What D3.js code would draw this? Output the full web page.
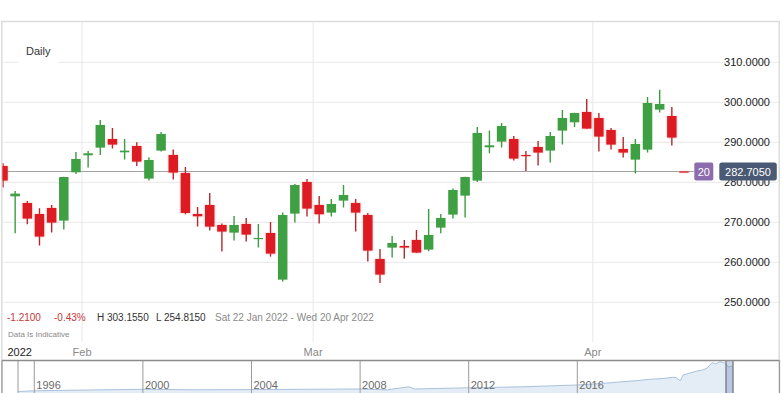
<!DOCTYPE html>
<html>
<head>
<meta charset="utf-8">
<script src="https://cdn.jsdelivr.net/npm/d3@7"></script>
<style>
  html, body { margin: 0; padding: 0; background: #fff; }
  svg { display: block; font-family: "Liberation Sans", Arial, sans-serif; }
</style>
</head>
<body>
<svg id="chart" width="783" height="393"></svg>
<script>
// ---------------- DATA ----------------
const dates = [
  "2022-01-21","2022-01-24","2022-01-25","2022-01-26","2022-01-27","2022-01-28","2022-01-31",
  "2022-02-01","2022-02-02","2022-02-03","2022-02-04","2022-02-07","2022-02-08","2022-02-09","2022-02-10","2022-02-11",
  "2022-02-14","2022-02-15","2022-02-16","2022-02-17","2022-02-18","2022-02-22","2022-02-23","2022-02-24","2022-02-25","2022-02-28",
  "2022-03-01","2022-03-02","2022-03-03","2022-03-04","2022-03-07","2022-03-08","2022-03-09","2022-03-10","2022-03-11",
  "2022-03-14","2022-03-15","2022-03-16","2022-03-17","2022-03-18","2022-03-21","2022-03-22","2022-03-23","2022-03-24","2022-03-25",
  "2022-03-28","2022-03-29","2022-03-30","2022-03-31",
  "2022-04-01","2022-04-04","2022-04-05","2022-04-06","2022-04-07","2022-04-08","2022-04-11","2022-04-12"
];
const openValues = [
  284.08,276.50,274.83,272.08,273.58,270.42,282.50,
  286.75,288.67,290.83,287.50,289.08,280.92,287.92,286.83,282.33,
  272.08,274.33,269.33,267.42,269.58,265.92,267.33,255.67,272.17,280.08,
  274.33,272.42,275.42,274.83,271.83,260.83,263.67,264.08,265.58,
  263.17,268.67,271.92,276.67,280.42,288.75,290.17,290.83,286.83,288.83,
  287.92,292.92,295.00,297.58,
  296.08,293.08,288.33,285.67,288.17,298.17,296.58,282.705
];
const highValues = [
  284.75,277.83,275.33,273.50,274.33,281.40,287.58,
  287.83,295.58,293.58,290.83,290.00,286.25,292.58,288.17,283.83,
  273.83,277.33,269.67,271.58,271.08,269.58,270.08,272.42,279.58,280.83,
  276.58,275.83,279.33,275.83,272.33,263.33,266.58,265.58,268.08,
  273.33,272.08,278.42,281.40,293.83,292.92,294.83,291.58,287.83,290.33,
  292.58,298.08,297.40,300.83,
  297.33,293.58,291.33,290.83,301.33,303.155,298.83,282.705
];
const lowValues = [
  278.67,267.25,269.50,264.17,267.42,268.17,282.08,
  283.67,286.83,288.42,285.67,284.08,280.42,287.67,280.67,272.00,
  268.92,267.92,262.67,265.42,265.17,263.67,261.42,255.17,269.92,271.42,
  269.67,271.42,273.67,267.67,260.17,254.815,261.17,260.92,262.30,
  262.75,267.25,270.92,271.17,280.08,287.25,288.67,285.42,282.83,284.17,
  284.92,289.42,293.83,293.30,
  287.67,288.17,286.17,282.17,287.42,297.42,289.17,282.705
];
const closeValues = [
  280.42,277.17,270.92,266.42,269.92,281.33,285.83,
  287.25,294.33,289.42,287.92,285.17,285.58,292.08,282.42,272.33,
  271.50,268.92,267.67,269.33,266.92,266.08,262.17,271.83,279.33,273.42,
  272.00,274.58,276.83,272.42,262.92,256.92,264.83,263.67,262.42,
  266.83,271.08,278.08,281.33,292.33,289.25,294.08,285.92,286.58,287.42,
  291.58,296.08,297.33,293.42,
  291.42,289.42,287.42,289.58,299.83,299.58,291.17,282.705
];
const yTicks = [250, 260, 270, 280, 290, 300, 310];
const monthStarts = ["2022-02-01", "2022-03-01", "2022-04-01"];
const monthLabels = ["Feb", "Mar", "Apr"];
const yearLabel = "2022";
const lastPrice = 282.705;
const countdownLabel = "20";
const statChange = "-1.2100";
const statPct = "-0.43%";
const statHigh = "H 303.1550";
const statLow = "L 254.8150";
const statRange = "Sat 22 Jan 2022 - Wed 20 Apr 2022";
const periodLabel = "Daily";
const noteLabel = "Data Is Indicative";

// navigator (long history overview)
const navYears  = [1995.4,1996.0,1998,2000,2002,2004,2006,2008,2009,2009.8,2010,2012,2014,2016,2017,2017.86,2018.5,2018.96,2019.5,2019.9,2020.02,2020.2,2020.31,2020.6,2020.88,2021.1,2021.28,2021.49,2021.65,2021.81,2021.95,2022.02,2022.15,2022.3];
const navValues = [6.6,8.4,10.5,12.4,11,11.6,12.4,13.2,11,19,13.2,16.3,19,23.7,27.6,32.4,35.5,38.7,40.8,43.9,43.4,35,50,55.3,60.5,63.2,67.6,82.4,79,85,82.9,80.8,71,73.7];
const navTickYears = [1996, 2000, 2004, 2008, 2012, 2016];
const navSelection = [2022.06, 2022.30];
const navStartYear = 1995.4;

// ---------------- DRAW ----------------
const svg = d3.select("#chart");
const W = 783, H = 393;

const x = d3.scalePoint().domain(dates).range([3, 684]);
const step = x.step();
const y = d3.scaleLinear().domain([250, 310]).range([302.3, 62.3]);

const defs = svg.append("defs");
defs.append("clipPath").attr("id", "plotClip")
  .append("rect").attr("x", 2.5).attr("y", 22).attr("width", 715).attr("height", 320);
const glow = defs.append("filter").attr("id", "redGlow")
  .attr("x", "-50%").attr("y", "-50%").attr("width", "200%").attr("height", "200%");
glow.append("feDropShadow").attr("dx", 0).attr("dy", 0).attr("stdDeviation", 1.1)
  .attr("flood-color", "#ff5a5a").attr("flood-opacity", 0.45);

// frame
svg.append("rect").attr("x", 1.75).attr("y", 21.5).attr("width", 777.5).attr("height", 400)
  .attr("fill", "none").attr("stroke", "#dcdcdc").attr("stroke-width", 1.5);

// horizontal gridlines
svg.append("g").selectAll("line").data(yTicks).join("line")
  .attr("x1", 3).attr("x2", 778)
  .attr("y1", d => y(d)).attr("y2", d => y(d))
  .attr("stroke", "#e8e8e8").attr("stroke-width", 1);

// vertical month gridlines (left band edge of first trading day)
svg.append("g").selectAll("line").data(monthStarts).join("line")
  .attr("x1", d => x(d) - step / 2).attr("x2", d => x(d) - step / 2)
  .attr("y1", 22).attr("y2", 342)
  .attr("stroke", "#e8e8e8").attr("stroke-width", 1);

// "Daily" label
svg.append("rect").attr("x", 18).attr("y", 38).attr("width", 40).attr("height", 25).attr("fill", "#fff");
svg.append("text").attr("x", 26).attr("y", 55).attr("font-size", 11).attr("fill", "#333").text(periodLabel);

// last price line
svg.append("line").attr("x1", 3).attr("x2", 694)
  .attr("y1", y(lastPrice)).attr("y2", y(lastPrice))
  .attr("stroke", "#a3a3a3").attr("stroke-width", 1.2);

// candles
const candles = dates.map((d, i) => ({
  d, o: openValues[i], h: highValues[i], l: lowValues[i], c: closeValues[i]
}));
const up = c => c.c > c.o;
const bodyW = 9.5;
const gC = svg.append("g").attr("clip-path", "url(#plotClip)");
const cg = gC.selectAll("g.candle").data(candles).join("g").attr("class", "candle");
cg.append("line")
  .attr("x1", c => x(c.d)).attr("x2", c => x(c.d))
  .attr("y1", c => y(c.h)).attr("y2", c => y(c.l))
  .attr("stroke", c => up(c) ? "#3c9b40" : "#b3282b")
  .attr("stroke-width", 1.4);
cg.append("rect")
  .attr("x", c => x(c.d) - bodyW / 2)
  .attr("width", bodyW)
  .attr("y", c => y(Math.max(c.o, c.c)))
  .attr("height", c => Math.max(1.2, Math.abs(y(c.o) - y(c.c))))
  .attr("fill", c => up(c) ? "#3f9f43" : "#dc1f24")
  .attr("filter", c => up(c) ? null : "url(#redGlow)");

// y labels
svg.append("g").selectAll("text").data(yTicks).join("text")
  .attr("x", 770).attr("y", d => y(d))
  .attr("text-anchor", "end").attr("dominant-baseline", "central")
  .attr("font-size", 11).attr("fill", "#222")
  .text(d => d3.format(".4f")(d));

// countdown box and price box
const py = y(lastPrice);
svg.append("rect").attr("x", 694.3).attr("y", py - 9).attr("width", 19).attr("height", 18)
  .attr("rx", 2).attr("fill", "#8d6cae");
svg.append("text").attr("x", 703.8).attr("y", py + 0.5).attr("text-anchor", "middle")
  .attr("dominant-baseline", "central").attr("font-size", 11).attr("fill", "#fff").text(countdownLabel);
svg.append("rect").attr("x", 719.3).attr("y", py - 9).attr("width", 57.5).attr("height", 18)
  .attr("rx", 2.5).attr("fill", "#4a5a75");
svg.append("text").attr("x", 748).attr("y", py + 0.5).attr("text-anchor", "middle")
  .attr("dominant-baseline", "central").attr("font-size", 11).attr("fill", "#fff")
  .text(d3.format(".4f")(lastPrice));

// stats row
const stats = [
  {t: statChange, x: 7, c: "#c8373a"},
  {t: statPct, x: 54, c: "#c8373a"},
  {t: statHigh, x: 97, c: "#333"},
  {t: statLow, x: 156, c: "#333"},
  {t: statRange, x: 215, c: "#8a8a8a"}
];
svg.append("g").selectAll("text").data(stats).join("text")
  .attr("x", d => d.x).attr("y", 321).attr("font-size", 10).attr("fill", d => d.c).text(d => d.t);
svg.append("text").attr("x", 8).attr("y", 337).attr("font-size", 8).attr("fill", "#888").text(noteLabel);

// x axis labels
svg.append("text").attr("x", 7.5).attr("y", 355.5).attr("font-size", 11).attr("fill", "#222").text(yearLabel);
svg.append("g").selectAll("text").data(monthStarts).join("text")
  .attr("x", d => x(d) - step / 2).attr("y", 355.5).attr("text-anchor", "middle")
  .attr("font-size", 11).attr("fill", "#8a8a8a").text((d, i) => monthLabels[i]);

// ---------------- NAVIGATOR ----------------
const nx = d3.scaleLinear().domain([navStartYear, 2016, navSelection[0], navSelection[1]])
  .range([18, 577.3, 726, 733]);
const ny = d3.scaleLinear().domain([0, 100]).range([394, 356]);
const navTop = 360.5;
const navBottom = 400;
const navPts = navYears.map((yr, i) => [yr, navValues[i]]);

svg.append("path").datum(navPts)
  .attr("d", d3.area().x(d => nx(d[0])).y0(navBottom).y1(d => ny(d[1])))
  .attr("fill", "#e4ecf6");
svg.append("path").datum(navPts)
  .attr("d", d3.line().x(d => nx(d[0])).y(d => ny(d[1])))
  .attr("fill", "none").attr("stroke", "#a9c2dc").attr("stroke-width", 1);

// year gridlines
svg.append("g").selectAll("line").data([navStartYear].concat(navTickYears)).join("line")
  .attr("x1", d => nx(d)).attr("x2", d => nx(d))
  .attr("y1", navTop).attr("y2", navBottom)
  .attr("stroke", "#9a9a9a").attr("stroke-width", 1);
svg.append("g").selectAll("text").data(navTickYears).join("text")
  .attr("x", d => nx(d) + 2).attr("y", 388.5).attr("font-size", 11).attr("fill", "#6b6b6b")
  .text(d => d);

// selection
svg.append("rect").attr("x", nx(navSelection[0])).attr("y", navTop)
  .attr("width", nx(navSelection[1]) - nx(navSelection[0])).attr("height", navBottom - navTop)
  .attr("fill", "rgba(102,133,194,0.35)");
svg.append("g").selectAll("line").data(navSelection).join("line")
  .attr("x1", d => nx(d)).attr("x2", d => nx(d))
  .attr("y1", navTop).attr("y2", navBottom)
  .attr("stroke", "#777").attr("stroke-width", 1.3);

// navigator top outline and side borders
svg.append("line").attr("x1", 2).attr("x2", 779.5).attr("y1", navTop).attr("y2", navTop)
  .attr("stroke", "#8c8c8c").attr("stroke-width", 1.3);
svg.append("line").attr("x1", 2).attr("x2", 2).attr("y1", navTop).attr("y2", navBottom)
  .attr("stroke", "#9a9a9a").attr("stroke-width", 1.2);
svg.append("line").attr("x1", 779.5).attr("x2", 779.5).attr("y1", navTop).attr("y2", navBottom)
  .attr("stroke", "#9a9a9a").attr("stroke-width", 1.2);
</script>
</body>
</html>
